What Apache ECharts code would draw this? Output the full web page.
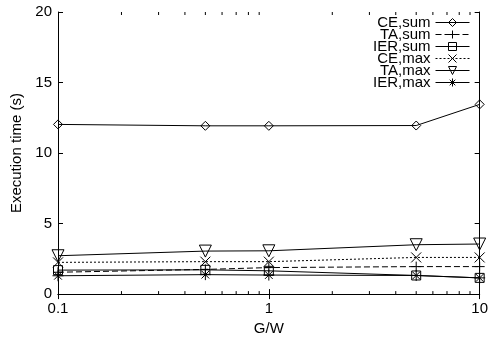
<!DOCTYPE html>
<html>
<head>
<meta charset="utf-8">
<script src="https://cdn.jsdelivr.net/npm/echarts@6/dist/echarts.min.js"></script>
<style>
  html, body { margin: 0; padding: 0; background: #fff; }
  #chart { width: 491px; height: 341px; }
</style>
</head>
<body>
<div id="chart"></div>
<script>
// G/W ratios on the horizontal (log) axis
var gw = [0.1, 0.5, 1, 5, 10];

// Execution time in seconds for each method
var ceSum  = [12.03, 11.93, 11.93, 11.95, 13.45];
var taSum  = [1.55, 1.75, 1.88, 1.95, 1.95];
var ierSum = [1.70, 1.72, 1.65, 1.32, 1.15];
var ceMax  = [2.25, 2.30, 2.30, 2.60, 2.60];
var taMax  = [2.72, 3.05, 3.07, 3.50, 3.55];
var ierMax = [1.30, 1.38, 1.35, 1.32, 1.15];

// Minor tick positions of the log axis
var minorTicks = [0.2, 0.3, 0.4, 0.5, 0.6, 0.7, 0.8, 0.9, 2, 3, 4, 5, 6, 7, 8, 9];

var FONT = 'Liberation Sans';

var SYM = {
  diamond: 'diamond',
  plus: 'path://M0,5L10,5M5,0L5,10',
  square: 'rect',
  cross: 'path://M0,0L10,10M10,0L0,10',
  triDown: 'path://M0,0L10,0L5,8.66Z',
  star: 'path://M0,5L10,5M5,0L5,10M1.5,1.5L8.5,8.5M8.5,1.5L1.5,8.5'
};

var HOLLOW = { color: 'rgba(0,0,0,0)', borderColor: '#000', borderWidth: 1 };

function pairs(ys) {
  return gw.map(function (x, i) { return [x, ys[i]]; });
}

function lineSeries(name, ys, symbol, size, dash) {
  return {
    name: name,
    type: 'line',
    data: pairs(ys),
    symbol: symbol,
    symbolSize: size,
    showAllSymbol: true,
    animation: false,
    lineStyle: { color: '#000', width: 1, type: dash || 'solid' },
    itemStyle: HOLLOW,
    emphasis: { disabled: true },
    z: 3
  };
}

var chart = echarts.init(document.getElementById('chart'), null, { renderer: 'canvas' });

var axisCommon = {
  axisLine: { lineStyle: { color: '#000', width: 1 } },
  axisTick: { inside: true, length: 5, lineStyle: { color: '#000' } },
  splitLine: { show: false }
};

chart.setOption({
  animation: false,
  backgroundColor: '#fff',
  textStyle: { fontFamily: FONT },
  grid: { left: 58, top: 12, right: 8, bottom: 45, containLabel: false },
  xAxis: [
    Object.assign({
      type: 'log', logBase: 10, min: 0.1, max: 10,
      name: 'G/W', nameLocation: 'middle', nameGap: 26,
      nameTextStyle: { color: '#000', fontSize: 15, fontFamily: FONT },
      axisLabel: { color: '#000', fontSize: 15, fontFamily: FONT, margin: 7 }
    }, axisCommon),
    Object.assign({
      type: 'log', logBase: 10, min: 0.1, max: 10, position: 'top',
      axisLabel: { show: false }
    }, axisCommon)
  ],
  yAxis: [
    Object.assign({
      type: 'value', min: 0, max: 20, interval: 5,
      name: 'Execution time (s)', nameLocation: 'middle', nameGap: 31,
      nameTextStyle: { color: '#000', fontSize: 15, fontFamily: FONT },
      axisLabel: { color: '#000', fontSize: 15, fontFamily: FONT, margin: 6 }
    }, axisCommon),
    Object.assign({
      type: 'value', min: 0, max: 20, interval: 5, position: 'right',
      axisLabel: { show: false }
    }, axisCommon)
  ],
  legend: {
    orient: 'vertical',
    right: 21,
    top: 15,
    padding: 0,
    align: 'right',
    itemWidth: 34,
    itemHeight: 10,
    itemGap: -3,
    selectedMode: false,
    itemStyle: HOLLOW,
    lineStyle: { color: '#000', width: 1 },
    textStyle: { color: '#000', fontSize: 15, fontFamily: FONT },
    data: ['CE,sum', 'TA,sum', 'IER,sum', 'CE,max', 'TA,max', 'IER,max']
  },
  series: [
    lineSeries('CE,sum', ceSum, SYM.diamond, 9),
    lineSeries('TA,sum', taSum, SYM.plus, 10, [6, 3]),
    lineSeries('IER,sum', ierSum, SYM.square, 9),
    lineSeries('CE,max', ceMax, SYM.cross, 10, [2, 2]),
    lineSeries('TA,max', taMax, SYM.triDown, 12),
    lineSeries('IER,max', ierMax, SYM.star, 11),
    {
      // inward minor ticks on bottom and top edges of the log axis
      type: 'custom',
      silent: true,
      animation: false,
      data: minorTicks.map(function (v) { return [v]; }),
      renderItem: function (params, api) {
        var v = api.value(0);
        var b = api.coord([v, 0]);
        var t = api.coord([v, 20]);
        var style = { stroke: '#000', lineWidth: 1 };
        return {
          type: 'group',
          children: [
            { type: 'line', shape: { x1: b[0], y1: b[1], x2: b[0], y2: b[1] - 3 }, style: style },
            { type: 'line', shape: { x1: t[0], y1: t[1], x2: t[0], y2: t[1] + 3 }, style: style }
          ]
        };
      },
      z: 2
    }
  ]
});
</script>
</body>
</html>
